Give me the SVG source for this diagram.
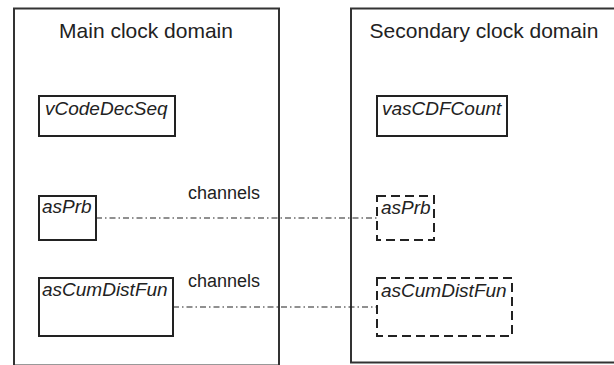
<svg xmlns="http://www.w3.org/2000/svg" width="614" height="365" viewBox="0 0 614 365">
<style>
.dom{fill:none;stroke:#333;stroke-width:2}
.box{fill:#fff;stroke:#222;stroke-width:2}
.dbox{fill:#fff;stroke:#222;stroke-width:2;stroke-dasharray:9 5}
.title{font-family:"Liberation Sans",Arial,sans-serif;font-size:21px;fill:#222}
.lbl{font-family:"Liberation Sans",Arial,sans-serif;font-size:19px;font-style:italic;fill:#222}
.ch{font-family:"Liberation Sans",Arial,sans-serif;font-size:18px;fill:#222}
.conn{fill:none;stroke:#222;stroke-width:1.2;stroke-dasharray:6 3 1.5 3}
</style>
<rect width="614" height="365" fill="#fff"/>
<g id="main-domain">
<rect class="dom" x="14" y="8.5" width="265" height="357"/>
<text class="title" x="146" y="37.5" text-anchor="middle">Main clock domain</text>
</g>
<g id="secondary-domain">
<rect class="dom" x="351" y="8.5" width="270" height="354"/>
<text class="title" x="484" y="37.5" text-anchor="middle">Secondary clock domain</text>
</g>
<g id="connectors">
<line class="conn" x1="96" y1="218" x2="377" y2="218"/>
<line class="conn" x1="173" y1="307" x2="377" y2="307"/>
<text class="ch" x="188" y="199">channels</text>
<text class="ch" x="188" y="287">channels</text>
</g>
<g id="vCodeDecSeq">
<rect class="box" x="39" y="96" width="136" height="40"/>
<text class="lbl" x="45" y="115">vCodeDecSeq</text>
</g>
<g id="asPrb-main">
<rect class="box" x="39" y="196" width="57" height="44"/>
<text class="lbl" x="42" y="213">asPrb</text>
</g>
<g id="asCumDistFun-main">
<rect class="box" x="39" y="278" width="134" height="58"/>
<text class="lbl" x="42" y="296">asCumDistFun</text>
</g>
<g id="vasCDFCount">
<rect class="box" x="377" y="96" width="130" height="40"/>
<text class="lbl" x="382" y="115">vasCDFCount</text>
</g>
<g id="asPrb-secondary">
<rect class="dbox" x="377" y="196" width="57" height="44"/>
<text class="lbl" x="381" y="214">asPrb</text>
</g>
<g id="asCumDistFun-secondary">
<rect class="dbox" x="377" y="278" width="135" height="58"/>
<text class="lbl" x="381" y="297">asCumDistFun</text>
</g>
</svg>
